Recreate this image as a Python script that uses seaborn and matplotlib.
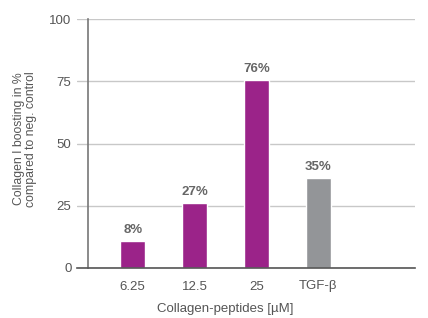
import matplotlib
matplotlib.use("Agg")
import matplotlib.pyplot as plt
import seaborn as sns
import pandas as pd

sns.set_style("white")
plt.rcParams['font.family'] = ['Liberation Sans', 'DejaVu Sans']

# data
categories = ["6.25", "12.5", "25", "TGF-\u03b2"]
values = [11, 26, 75.5, 36]
bar_labels = ["8%", "27%", "76%", "35%"]
groups = ["peptide", "peptide", "peptide", "control"]

df = pd.DataFrame({"category": categories, "value": values, "group": groups})

text_col = "#555555"
fig = plt.figure(figsize=(4.28, 3.18), dpi=100)
ax = fig.add_axes([77 / 428, 1 - 268 / 318, (415 - 77) / 428, (268 - 19) / 318])

sns.barplot(data=df, x="category", y="value", hue="group",
            palette={"peptide": "#9b2389", "control": "#939598"},
            saturation=1, width=0.41, dodge=False, legend=False, ax=ax)

for i, lab in enumerate(bar_labels):
    ax.text(i, values[i] + 2, lab, ha="center", va="bottom",
            fontsize=9.5, color="#666666", fontweight="bold")

ax.set_ylim(0, 100)
ax.set_xlim(-0.9, 4.56)
ax.set_yticks([0, 25, 50, 75, 100])
ax.yaxis.grid(True, color="#c8c8c8", linewidth=1)
ax.set_axisbelow(True)

for s in ["top", "right"]:
    ax.spines[s].set_visible(False)
ax.spines["left"].set_position(("data", -0.72))
ax.spines["left"].set_color("#777777")
ax.spines["bottom"].set_color("#555555")
ax.spines["left"].set_linewidth(1.2)
ax.spines["bottom"].set_linewidth(1.2)

ax.tick_params(axis="both", length=0, labelsize=9.5, labelcolor=text_col)
ax.tick_params(axis="y", pad=12)
ax.tick_params(axis="x", pad=9)
ax.set_xlabel("Collagen-peptides [\u00b5M]", fontsize=9.5, color=text_col)
ax.set_ylabel("Collagen I boosting in %\ncompared to neg. control",
              fontsize=8.8, color=text_col, linespacing=1.0)
ax.xaxis.set_label_coords((225 - 77) / (415 - 77), -0.14)
ax.yaxis.set_label_coords((37 - 77) / (415 - 77), 0.518)

fig.savefig("out.png", dpi=100)
